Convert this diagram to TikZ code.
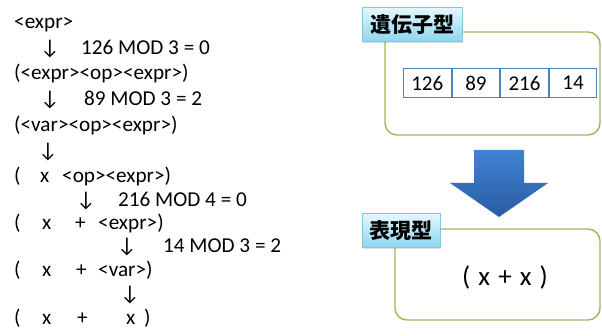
\documentclass[tikz,border=0pt]{standalone}
\usepackage{fontspec}
\setmainfont{Carlito}
\newfontfamily\jpfont{Noto Sans CJK JP}
\usetikzlibrary{shadows}
\definecolor{boxgreen}{HTML}{9BBB59}
\definecolor{cellblue}{HTML}{4F81BD}
\definecolor{tagedge}{HTML}{86C3DC}
\definecolor{tagtop}{HTML}{E4F7FD}
\definecolor{tagbottom}{HTML}{8ED6F0}
\definecolor{arrowtop}{HTML}{3F83D3}
\definecolor{arrowbottom}{HTML}{2A5CA4}
\begin{document}
\begin{tikzpicture}[x=1pt,y=-1pt,
  deriv/.style={anchor=base west, inner sep=0pt, font=\fontsize{21.2}{24}\selectfont},
  darrow/.style={anchor=base, inner sep=0pt, font=\fontsize{21.2}{24}\selectfont},
  frame/.style={draw=boxgreen, line width=1.4pt, rounded corners=12pt},
  tag/.style={draw=tagedge, line width=0.8pt, top color=tagtop, bottom color=tagbottom,
    anchor=north west, inner sep=0pt, font=\jpfont\bfseries\fontsize{21}{24}\selectfont,
    drop shadow={opacity=0.25, shadow xshift=1pt, shadow yshift=-1.2pt}},
  cell/.style={draw=cellblue, line width=1.1pt, fill=white, anchor=north west,
    minimum width=47.5pt, minimum height=29pt, inner sep=0pt,
    font=\fontsize{21}{24}\selectfont}]
\useasboundingbox (0,0) rectangle (602,336);

% derivation steps
\node[deriv] (l0) at (14,29) {<expr>};
\node[darrow] (a1) at (50,55) {↓};
\node[deriv] (r1) at (81,55) {126 MOD 3 = 0};
\node[deriv] (l2) at (14,80) {(<expr><op><expr>)};
\node[darrow] (a3) at (50,106) {↓};
\node[deriv] (r3) at (84,106) {89 MOD 3 = 2};
\node[deriv] (l4) at (14,132) {(<var><op><expr>)};
\node[darrow] (a5) at (48,158) {↓};
\node[deriv] (l6a) at (14,183) {(};
\node[deriv] (l6b) at (40,183) {x};
\node[deriv] (l6c) at (62,183) {<op><expr>)};
\node[darrow] (a7) at (86,207) {↓};
\node[deriv] (r7) at (118,207) {216 MOD 4 = 0};
\node[deriv] (l8a) at (14,230) {(};
\node[deriv] (l8b) at (42,230) {x};
\node[deriv] (l8c) at (75,230) {+};
\node[deriv] (l8d) at (98,230) {<expr>)};
\node[darrow] (a9) at (127,253) {↓};
\node[deriv] (r9) at (163,253) {14 MOD 3 = 2};
\node[deriv] (l10a) at (14,277) {(};
\node[deriv] (l10b) at (42,277) {x};
\node[deriv] (l10c) at (76,277) {+};
\node[deriv] (l10d) at (98,277) {<var>)};
\node[darrow] (a11) at (130,301) {↓};
\node[deriv] (l12a) at (14,325) {(};
\node[deriv] (l12b) at (42,325) {x};
\node[deriv] (l12c) at (77,325) {+};
\node[deriv] (l12d) at (126,325) {x};
\node[deriv] (l12e) at (144,325) {)};

% genotype panel
\draw[frame] (385,32) rectangle (600,135);
\node[tag, minimum width=100pt, minimum height=34pt] (geno) at (362,7) {遺伝子型};
\node[cell] (c1) at (403,68) {126};
\node[cell] (c2) at (c1.north east) {89};
\node[cell] (c3) at (c2.north east) {216};
\node[cell] (c4) at (c3.north east) {14};

% decoding arrow
\shade[top color=arrowtop, bottom color=arrowbottom]
  (474,150) -- (524,150) -- (524,183) -- (548,183) -- (499,217) -- (450,183) -- (474,183) -- cycle;

% phenotype panel
\draw[frame] (395,229) rectangle (600,320);
\node[tag, minimum width=78pt, minimum height=34pt] (pheno) at (362,213) {表現型};
\node[inner sep=0pt, anchor=base, font=\fontsize{27}{30}\selectfont] (expr) at (505,286)
  {\spaceskip=0.3em\relax ( x + x )};
\end{tikzpicture}
\end{document}
